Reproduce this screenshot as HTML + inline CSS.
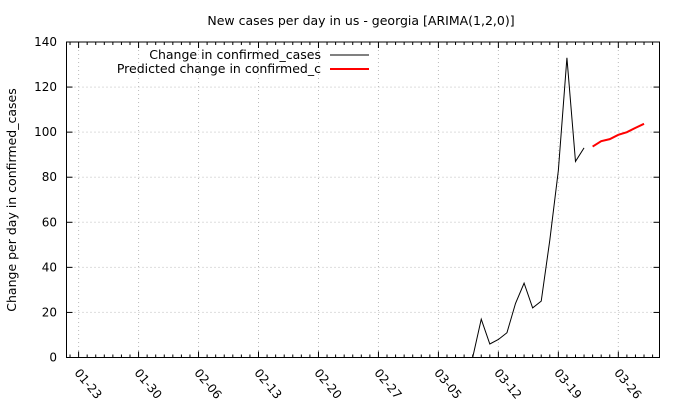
<!DOCTYPE html>
<html><head><meta charset="utf-8"><style>
body{margin:0;background:#fff;}
svg{display:block;font-family:"DejaVu Sans","Liberation Sans",sans-serif;}
</style></head><body>
<svg id="chart" width="680" height="400"></svg>
<script>
const xLabels=["01-23","01-30","02-06","02-13","02-20","02-27","03-05","03-12","03-19","03-26"];
const yTicks=[0,20,40,60,80,100,120,140];
const actualDays=[];const actualVals=[];
for(let d=0;d<=46;d++){actualDays.push(d);actualVals.push(0);}
const lateDays=[47,48,49,50,51,52,53,54,55,56,57,58,59];
const lateVals=[17,6,8,11,24,33,22,25,52,83,133,87,93];
const predDays=[60,61,62,63,64,65,66];
const predVals=[93.6,96,96.9,98.8,100,101.9,103.7];

const L=66.5,R=659.5,T=42,B=357.5;
const x0=78.6,pxDay=8.567;
const X=d=>x0+d*pxDay;
const Y=v=>B-(v/140)*(B-T);
const NS="http://www.w3.org/2000/svg";
const svg=document.getElementById('chart');
function mk(t,a,p){const e=document.createElementNS(NS,t);for(const k in a)e.setAttribute(k,a[k]);(p||svg).appendChild(e);return e;}

yTicks.forEach(v=>{if(v>0&&v<140){const g=mk('line',{x1:L,x2:R,y1:Y(v),y2:Y(v),stroke:'#bbb','stroke-dasharray':'1,3','stroke-width':1});

}});
xLabels.forEach((s,i)=>{const g=mk('line',{x1:X(i*7),x2:X(i*7),y1:T,y2:B,stroke:'#bbb','stroke-dasharray':'1,3','stroke-width':1});

});
for(let d=-1;d<=67;d++){const xx=X(d);if(xx<L||xx>R)continue;const len=((d%7)===0)?6:3;
mk('line',{x1:xx,x2:xx,y1:B,y2:B-len,stroke:'#000','stroke-width':1});
mk('line',{x1:xx,x2:xx,y1:T,y2:T+len,stroke:'#000','stroke-width':1});}
yTicks.forEach(v=>{mk('line',{x1:L,x2:L+6,y1:Y(v),y2:Y(v),stroke:'#000'});mk('line',{x1:R,x2:R-6,y1:Y(v),y2:Y(v),stroke:'#000'});
const t=mk('text',{x:57,y:Y(v)+4,'text-anchor':'end','font-size':12});t.textContent=v;

});
xLabels.forEach((s,i)=>{const xx=X(i*7)+2,yy=B+10;const t=mk('text',{x:xx,y:yy,'font-size':12,transform:`rotate(50 ${xx} ${yy})`,'dominant-baseline':'hanging'});t.textContent=s;

});
const bd=mk('rect',{x:L,y:T,width:R-L,height:B-T,fill:'none',stroke:'#000','stroke-width':1});


const ad=actualDays.concat(lateDays),av=actualVals.concat(lateVals);
const a=mk('polyline',{points:ad.map((d,i)=>X(d)+','+Y(av[i])).join(' '),fill:'none',stroke:'#000','stroke-width':1});


const p=mk('polyline',{points:predDays.map((d,i)=>X(d)+','+Y(predVals[i])).join(' '),fill:'none',stroke:'#f00','stroke-width':2});


const ti=mk('text',{x:361,y:25,'text-anchor':'middle','font-size':12.5});ti.textContent="New cases per day in us - georgia [ARIMA(1,2,0)]";


const yt=mk('text',{x:16,y:200,'text-anchor':'middle','font-size':12.5,transform:'rotate(-90 16 200)'});yt.textContent="Change per day in confirmed_cases";


const l1=mk('text',{x:321,y:59,'text-anchor':'end','font-size':12.5});l1.textContent="Change in confirmed_cases";


mk('line',{x1:330,x2:369,y1:55,y2:55,stroke:'#000'});
const l2=mk('text',{x:321,y:73,'text-anchor':'end','font-size':12.5});l2.textContent="Predicted change in confirmed_c";


mk('line',{x1:330,x2:369,y1:69,y2:69,stroke:'#f00','stroke-width':2});
</script>
</body></html>
